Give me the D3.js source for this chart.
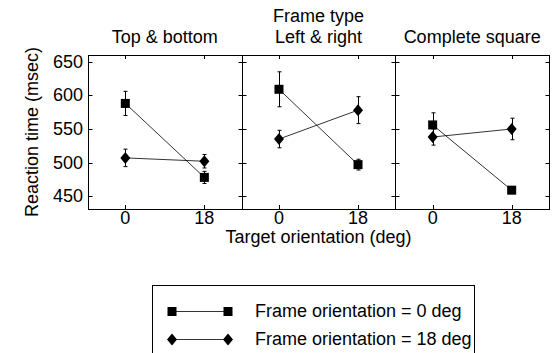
<!DOCTYPE html>
<html>
<head>
<meta charset="utf-8">
<script src="https://cdn.jsdelivr.net/npm/d3@7/dist/d3.min.js"></script>
<style>
body{margin:0;background:#fff;}
text{font-family:"Liberation Sans",Arial,sans-serif;fill:#000;}
</style>
</head>
<body>
<div id="chart"></div>
<script>
// donnees
var panels=["Top & bottom","Left & right","Complete square"];
var targetOri=[0,18];
var yTicks=[450,500,550,600,650];
// orientation du cadre = 0 deg (carres)
var sq=[[588,478],[609,497],[556,459]];
var sqErr=[[18,9],[26,8],[18,5]];
// orientation du cadre = 18 deg (losanges)
var dia=[[507,502],[535,578],[538,550]];
var diaErr=[[13,10],[13,20],[12,16]];
var legendLabels=["Frame orientation = 0 deg","Frame orientation = 18 deg"];

var width=555,height=353;
var mLeft=88,mRight=549,mTop=55,mBottom=209;
var pw=(mRight-mLeft)/panels.length;
var fs="18px";

var svg=d3.select("#chart").append("svg").attr("width",width).attr("height",height);

var y=d3.scaleLinear().domain([431,660]).range([mBottom,mTop]);

function square(g,cx,cy,s){
  g.append("rect").attr("x",cx-s/2).attr("y",cy-s/2).attr("width",s).attr("height",s).attr("fill","#000");
}
function diamond(g,cx,cy){
  g.append("path").attr("d","M"+cx+","+(cy-6)+"L"+(cx+5)+","+cy+"L"+cx+","+(cy+6)+"L"+(cx-5)+","+cy+"Z").attr("fill","#000");
}

var lineF=d3.line().x(function(d){return d[0];}).y(function(d){return d[1];});

for(var p=0;p<panels.length;p++){
  var x0=mLeft+p*pw;
  var ex0=Math.round(x0)+0.5, ex1=Math.round(x0+pw)+0.5;
  var x=d3.scaleLinear().domain([-8.5,26.5]).range([x0,x0+pw]);
  var g=svg.append("g");

  // ticks vers l'interieur
  var tk=g.append("g").attr("stroke","#000").attr("stroke-width",1);
  yTicks.forEach(function(t){
    var yy=Math.round(y(t))+0.5;
    tk.append("line").attr("x1",ex0).attr("x2",ex0+4).attr("y1",yy).attr("y2",yy);
    tk.append("line").attr("x1",ex1-4).attr("x2",ex1).attr("y1",yy).attr("y2",yy);
  });
  targetOri.forEach(function(t){
    var xx=Math.round(x(t))+0.5;
    tk.append("line").attr("x1",xx).attr("x2",xx).attr("y1",mTop).attr("y2",mTop+4);
    tk.append("line").attr("x1",xx).attr("x2",xx).attr("y1",mBottom-4).attr("y2",mBottom);
    g.append("text").attr("x",x(t)).attr("y",mBottom+15).attr("text-anchor","middle")
      .style("font-size",fs).text(t);
  });

  g.append("rect").attr("x",ex0).attr("y",mTop+0.5).attr("width",ex1-ex0)
    .attr("height",mBottom-mTop).attr("fill","none").attr("stroke","#000").attr("stroke-width",1);

  g.append("text").attr("x",x0+pw/2).attr("y",43).attr("text-anchor","middle")
    .style("font-size",fs).text(panels[p]);

  // lignes
  var ps=targetOri.map(function(t,i){return [x(t),y(sq[p][i])];});
  var pd=targetOri.map(function(t,i){return [x(t),y(dia[p][i])];});
  g.append("path").attr("d",lineF(ps)).attr("fill","none").attr("stroke","#000").attr("stroke-width",0.8);
  g.append("path").attr("d",lineF(pd)).attr("fill","none").attr("stroke","#000").attr("stroke-width",0.8);

  // barres d'erreur
  var eb=g.append("g").attr("stroke","#000").attr("stroke-width",1);
  function errBar(xx,v,e){
    xx=Math.round(xx)+0.5;
    eb.append("line").attr("x1",xx).attr("x2",xx).attr("y1",y(v-e)).attr("y2",y(v+e));
    eb.append("line").attr("x1",xx-2).attr("x2",xx+2).attr("y1",y(v-e)).attr("y2",y(v-e));
    eb.append("line").attr("x1",xx-2).attr("x2",xx+2).attr("y1",y(v+e)).attr("y2",y(v+e));
  }
  targetOri.forEach(function(t,i){
    errBar(x(t),sq[p][i],sqErr[p][i]);
    errBar(x(t),dia[p][i],diaErr[p][i]);
  });
  targetOri.forEach(function(t,i){
    square(g,x(t),y(sq[p][i]),9);
    diamond(g,x(t),y(dia[p][i]));
  });
}

// axe y
yTicks.forEach(function(t){
  svg.append("text").attr("x",mLeft-5).attr("y",y(t)+6).attr("text-anchor","end")
    .style("font-size",fs).text(t);
});
svg.append("text").attr("transform","translate(38,"+((mTop+mBottom)/2)+") rotate(-90)")
  .attr("text-anchor","middle").style("font-size",fs).text("Reaction time (msec)");
svg.append("text").attr("x",(mLeft+mRight)/2).attr("y",243).attr("text-anchor","middle")
  .style("font-size",fs).text("Target orientation (deg)");
svg.append("text").attr("x",mLeft+pw*1.5).attr("y",22).attr("text-anchor","middle")
  .style("font-size",fs).text("Frame type");

// legende
var lg=svg.append("g");
lg.append("rect").attr("x",152.5).attr("y",285.5).attr("width",322).attr("height",80)
  .attr("fill","#fff").attr("stroke","#000").attr("stroke-width",1);
var ly=[311,339];
legendLabels.forEach(function(lab,i){
  lg.append("line").attr("x1",172).attr("x2",228).attr("y1",ly[i]+0.5).attr("y2",ly[i]+0.5)
    .attr("stroke","#000").attr("stroke-width",0.8);
  if(i==0){square(lg,172,ly[i]+0.5,9);square(lg,228,ly[i]+0.5,9);}
  else{diamond(lg,172,ly[i]+0.5);diamond(lg,228,ly[i]+0.5);}
  lg.append("text").attr("x",255).attr("y",ly[i]+6).style("font-size",fs).text(lab);
});
</script>
</body>
</html>
